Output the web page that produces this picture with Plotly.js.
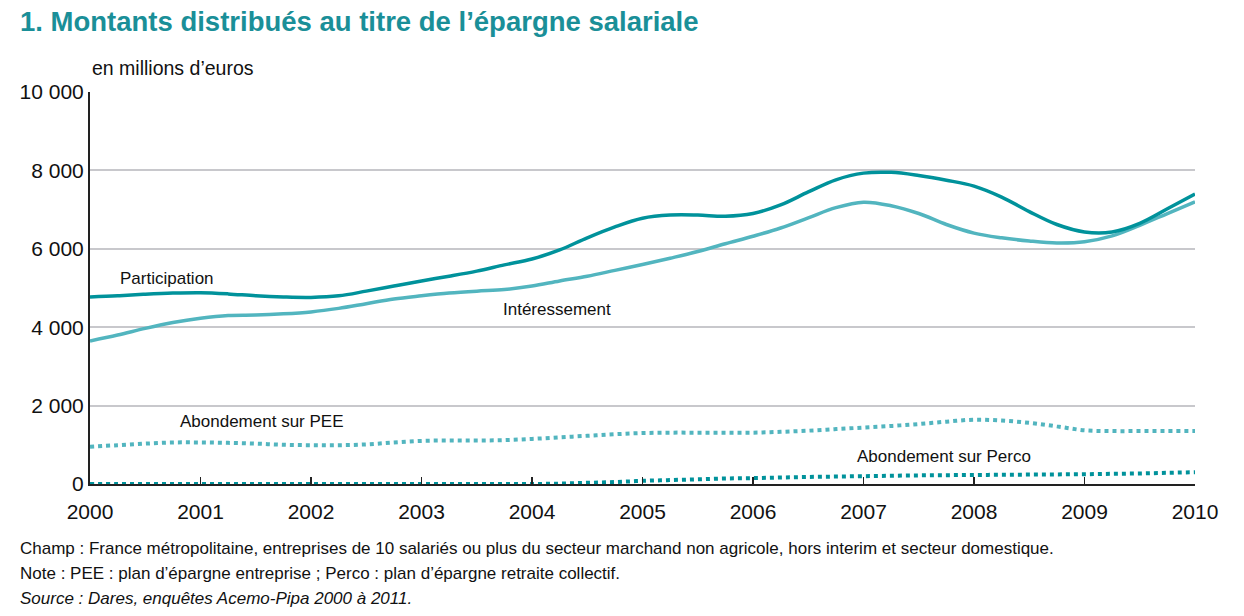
<!DOCTYPE html>
<html><head><meta charset="utf-8">
<script src="https://cdn.plot.ly/plotly-3.0.1.min.js"></script>
<style>html,body{margin:0;padding:0;background:#fff;}#chart{width:1244px;height:616px;}</style>
</head><body><div id="chart"></div>
<script>
const periods = [2000,2000.25,2000.5,2000.75,2001,2001.25,2001.5,2001.75,2002,2002.25,2002.5,2002.75,2003,2003.25,2003.5,2003.75,2004,2004.25,2004.5,2004.75,2005,2005.25,2005.5,2005.75,2006,2006.25,2006.5,2006.75,2007,2007.25,2007.5,2007.75,2008,2008.25,2008.5,2008.75,2009,2009.25,2009.5,2009.75,2010];
const participation = [4770,4800,4840,4870,4880,4850,4800,4770,4760,4800,4920,5050,5180,5300,5430,5590,5740,5970,6280,6560,6780,6860,6860,6830,6900,7120,7450,7760,7930,7950,7870,7750,7600,7320,6950,6620,6430,6430,6650,7020,7400];
const interessement = [3650,3800,3970,4120,4230,4300,4310,4340,4390,4480,4600,4720,4800,4870,4920,4960,5050,5180,5300,5450,5600,5760,5930,6130,6320,6530,6790,7050,7190,7100,6900,6620,6400,6280,6200,6150,6180,6330,6600,6900,7200];
const abondPEE = [950,990,1030,1060,1060,1050,1030,1000,990,990,1010,1060,1100,1110,1110,1120,1150,1190,1230,1270,1300,1310,1310,1310,1310,1330,1360,1400,1440,1480,1530,1590,1640,1620,1560,1470,1370,1350,1350,1350,1350];
const abondPerco = [0,0,0,0,0,0,0,0,0,0,0,0,0,0,0,0,0,10,30,50,80,100,120,140,150,165,180,190,200,210,220,225,230,235,240,245,250,260,270,285,300];
const yearTicks = [2000,2001,2002,2003,2004,2005,2006,2007,2008,2009,2010];
const yTicks = [0,2000,4000,6000,8000,10000];
const yTickText = ['0','2 000','4 000','6 000','8 000','10 000'];

const dark = '#00929b', light = '#52b5bf';
const F = '"Liberation Sans", Arial, sans-serif';

const traces = [
  {x: periods, y: abondPEE, mode:'lines', line:{color:light, width:4, dash:'4px,4px', shape:'spline'}, name:'Abondement sur PEE'},
  {x: periods, y: abondPerco, mode:'lines', line:{color:dark, width:4, dash:'4px,4px', shape:'spline'}, name:'Abondement sur Perco'},
  {x: periods, y: interessement, mode:'lines', line:{color:light, width:3.5, shape:'spline'}, name:'Intéressement'},
  {x: periods, y: participation, mode:'lines', line:{color:dark, width:3.5, shape:'spline'}, name:'Participation'}
];

const annFont = {family:F, size:17, color:'#111'};
const foot = {family:F, size:17, color:'#111'};
const layout = {
  width:1244, height:616,
  margin:{l:90, r:49, t:92, b:132},
  paper_bgcolor:'#fff', plot_bgcolor:'#fff',
  showlegend:false,
  font:{family:F, color:'#111'},
  xaxis:{range:[2000,2010], tickvals:yearTicks, ticktext:yearTicks.map(String), ticks:'inside', ticklen:7, tickwidth:1.5, tickcolor:'#222',
    showline:true, linecolor:'#222', linewidth:2, showgrid:false, zeroline:false, tickfont:{family:F, size:21, color:'#111'},
    ticklabelstandoff:8, fixedrange:true},
  yaxis:{range:[0,10000], tickvals:yTicks, ticktext:yTickText, ticks:'', showline:true, linecolor:'#222', linewidth:2,
    showgrid:true, gridcolor:'#c8c8cc', gridwidth:2, zeroline:false, tickfont:{family:F, size:21, color:'#111'}, fixedrange:true},
  annotations:[
    {xref:'paper', yref:'paper', x:-72/1105, y:1+ (92-22)/392, xanchor:'left', yanchor:'middle', showarrow:false,
     text:'<b>1. Montants distribués au titre de l’épargne salariale</b>', font:{family:F, size:27.5, color:'#1a8f98'}},
    {xref:'paper', yref:'paper', x:0, y:1+(92-68)/392, xanchor:'left', yanchor:'middle', showarrow:false,
     text:'en millions d’euros', font:{family:F, size:19.5, color:'#111'}},
    {xref:'x', yref:'y', x:2000.7, y:5250, showarrow:false, text:'Participation', font:annFont},
    {xref:'x', yref:'y', x:2004.23, y:4450, showarrow:false, text:'Intéressement', font:annFont},
    {xref:'x', yref:'y', x:2001.55, y:1600, showarrow:false, text:'Abondement sur PEE', font:annFont},
    {xref:'x', yref:'y', x:2007.73, y:690, showarrow:false, text:'Abondement sur Perco', font:annFont},
    {xref:'paper', yref:'paper', x:-72/1105, y:-(548-484)/392, xanchor:'left', yanchor:'middle', showarrow:false,
     text:'Champ : France métropolitaine, entreprises de 10 salariés ou plus du secteur marchand non agricole, hors interim et secteur domestique.', font:foot},
    {xref:'paper', yref:'paper', x:-72/1105, y:-(573-484)/392, xanchor:'left', yanchor:'middle', showarrow:false,
     text:'Note : PEE : plan d’épargne entreprise ; Perco : plan d’épargne retraite collectif.', font:foot},
    {xref:'paper', yref:'paper', x:-72/1105, y:-(598-484)/392, xanchor:'left', yanchor:'middle', showarrow:false,
     text:'<i>Source : Dares, enquêtes Acemo-Pipa 2000 à 2011.</i>', font:foot}
  ]
};
Plotly.newPlot('chart', traces, layout, {displayModeBar:false, staticPlot:true});
</script></body></html>
